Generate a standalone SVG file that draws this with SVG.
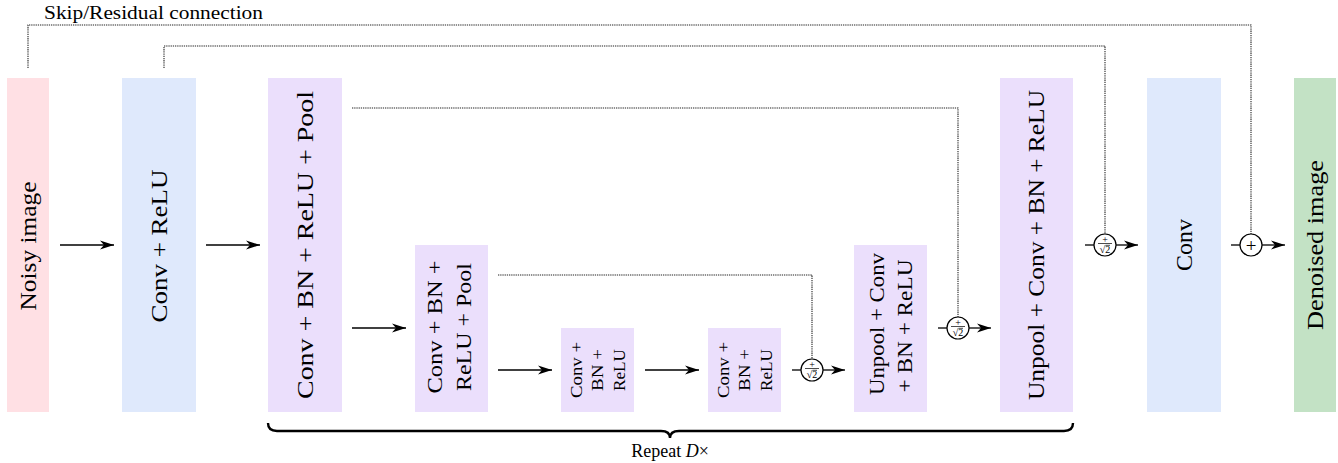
<svg xmlns="http://www.w3.org/2000/svg" width="1338" height="463" viewBox="0 0 1338 463">
<defs>
<marker id="ah" viewBox="0 0 14 10" refX="14" refY="5" markerWidth="14" markerHeight="10" markerUnits="userSpaceOnUse" orient="auto">
<path d="M0,0.5 L14,5 L0,9.5 L4,5 z" fill="#000"/>
</marker>
</defs>
<style>
.t{font-family:"Liberation Serif","Times New Roman",serif;fill:#000;text-anchor:middle}
.big{font-size:24px}
.mid{font-size:21px}
.sm{font-size:16px}
.pink{fill:#ffe0e4}
.blue{fill:#dfe9fc}
.lav{fill:#ebdffc}
.green{fill:#c3e2c5}
.arr{stroke:#000;stroke-width:1.3;fill:none}
.arrh{stroke:#000;stroke-width:1.3;fill:none;marker-end:url(#ah)}
.dot{stroke:#222;stroke-width:1.1;fill:none;stroke-dasharray:1.3 0.9}
.circ{fill:#fff;stroke:#000;stroke-width:1.2}
.fr{font-family:"Liberation Serif","Times New Roman",serif;fill:#000;text-anchor:middle;font-size:10px}
.fb{stroke:#000;stroke-width:0.7}
</style>

<g id="noisy">
<rect class="pink" x="7" y="78" width="42" height="334"/>
<text class="t big" transform="translate(36,246) rotate(-90)" textLength="129" lengthAdjust="spacingAndGlyphs">Noisy image</text>
</g>
<g id="conv-relu">
<rect class="blue" x="122" y="78" width="74" height="334"/>
<text class="t big" transform="translate(167,246) rotate(-90)" textLength="153" lengthAdjust="spacingAndGlyphs">Conv + ReLU</text>
</g>
<g id="enc1">
<rect class="lav" x="268" y="78" width="74" height="334"/>
<text class="t big" transform="translate(313,245) rotate(-90)" textLength="308" lengthAdjust="spacingAndGlyphs">Conv + BN + ReLU + Pool</text>
</g>
<g id="enc2">
<rect class="lav" x="415" y="245" width="73" height="167"/>
<text class="t mid" transform="translate(442,327) rotate(-90)" textLength="133" lengthAdjust="spacingAndGlyphs">Conv + BN +</text>
<text class="t mid" transform="translate(471,327) rotate(-90)" textLength="128" lengthAdjust="spacingAndGlyphs">ReLU + Pool</text>
</g>
<g id="mid1">
<rect class="lav" x="561" y="328" width="73" height="84"/>
<text class="t sm" transform="translate(582,370) rotate(-90)" textLength="56" lengthAdjust="spacingAndGlyphs">Conv +</text>
<text class="t sm" transform="translate(603,370) rotate(-90)" textLength="42" lengthAdjust="spacingAndGlyphs">BN +</text>
<text class="t sm" transform="translate(625,370) rotate(-90)" textLength="42" lengthAdjust="spacingAndGlyphs">ReLU</text>
</g>
<g id="mid2">
<rect class="lav" x="708" y="328" width="73" height="84"/>
<text class="t sm" transform="translate(729,370) rotate(-90)" textLength="56" lengthAdjust="spacingAndGlyphs">Conv +</text>
<text class="t sm" transform="translate(750,370) rotate(-90)" textLength="42" lengthAdjust="spacingAndGlyphs">BN +</text>
<text class="t sm" transform="translate(772,370) rotate(-90)" textLength="42" lengthAdjust="spacingAndGlyphs">ReLU</text>
</g>
<g id="dec2">
<rect class="lav" x="854" y="245" width="73" height="167"/>
<text class="t mid" transform="translate(884,324) rotate(-90)" textLength="142" lengthAdjust="spacingAndGlyphs">Unpool + Conv</text>
<text class="t mid" transform="translate(912,326) rotate(-90)" textLength="133" lengthAdjust="spacingAndGlyphs">+ BN + ReLU</text>
</g>
<g id="dec1">
<rect class="lav" x="1000" y="78" width="73" height="334"/>
<text class="t big" transform="translate(1044,245) rotate(-90)" textLength="310" lengthAdjust="spacingAndGlyphs">Unpool + Conv + BN + ReLU</text>
</g>
<g id="conv">
<rect class="blue" x="1147" y="78" width="74" height="334"/>
<text class="t big" transform="translate(1192,245) rotate(-90)" textLength="52" lengthAdjust="spacingAndGlyphs">Conv</text>
</g>
<g id="denoised">
<rect class="green" x="1294" y="78" width="42" height="334"/>
<text class="t big" transform="translate(1323,245) rotate(-90)" textLength="170" lengthAdjust="spacingAndGlyphs">Denoised image</text>
</g>

<g id="connectors">
<path class="dot" d="M28,68 V25 H1251 V234"/>
<path class="dot" d="M164,68 V46 H1105 V234"/>
<path class="dot" d="M352,108 H958 V317"/>
<path class="dot" d="M498,275 H812 V359"/>

<line class="arrh" x1="60" y1="245" x2="114" y2="245"/>
<line class="arrh" x1="206" y1="245" x2="260" y2="245"/>
<line class="arrh" x1="352" y1="328" x2="406" y2="328"/>
<line class="arrh" x1="498" y1="370" x2="552" y2="370"/>
<line class="arrh" x1="645" y1="370" x2="699" y2="370"/>

<line class="arr" x1="792" y1="370" x2="801" y2="370"/>
<line class="arrh" x1="823" y1="370" x2="845" y2="370"/>
<line class="arr" x1="938" y1="328" x2="947" y2="328"/>
<line class="arrh" x1="969" y1="328" x2="991" y2="328"/>
<line class="arr" x1="1085" y1="245" x2="1094" y2="245"/>
<line class="arrh" x1="1116" y1="245" x2="1138" y2="245"/>
<line class="arr" x1="1231" y1="245" x2="1240" y2="245"/>
<line class="arrh" x1="1262" y1="245" x2="1285" y2="245"/>
</g>

<g id="add1">
<circle class="circ" cx="812" cy="370" r="11"/>
<text class="fr" x="812" y="367.5">+</text>
<line class="fb" x1="805" y1="368.5" x2="819" y2="368.5"/>
<text class="fr" x="812" y="377.5" font-size="9">√2</text>
<line class="fb" x1="812.5" y1="370.3" x2="817" y2="370.3" stroke-width="0.5"/>
</g>
<g id="add2">
<circle class="circ" cx="958" cy="328" r="11"/>
<text class="fr" x="958" y="325.5">+</text>
<line class="fb" x1="951" y1="326.5" x2="965" y2="326.5"/>
<text class="fr" x="958" y="335.5" font-size="9">√2</text>
<line class="fb" x1="958.5" y1="328.3" x2="963" y2="328.3" stroke-width="0.5"/>
</g>
<g id="add3">
<circle class="circ" cx="1105" cy="245" r="11"/>
<text class="fr" x="1105" y="242.5">+</text>
<line class="fb" x1="1098" y1="243.5" x2="1112" y2="243.5"/>
<text class="fr" x="1105" y="252.5" font-size="9">√2</text>
<line class="fb" x1="1105.5" y1="245.3" x2="1110" y2="245.3" stroke-width="0.5"/>
</g>
<g id="add4">
<circle class="circ" cx="1251" cy="245" r="11"/>
<text class="t" x="1251" y="251.5" font-size="19">+</text>
</g>

<g id="skip-label">
<text class="t" x="44" y="19" font-size="18" style="text-anchor:start" textLength="219" lengthAdjust="spacingAndGlyphs">Skip/Residual connection</text>
</g>

<g id="brace">
<path d="M268,423 Q268,431 277,431 H661 Q670,431 670,438 Q670,431 679,431 H1064 Q1073,431 1073,423" fill="none" stroke="#000" stroke-width="2.4"/>
<text class="t" x="670" y="457" font-size="18">Repeat <tspan font-style="italic">D</tspan>×</text>
</g>
</svg>
